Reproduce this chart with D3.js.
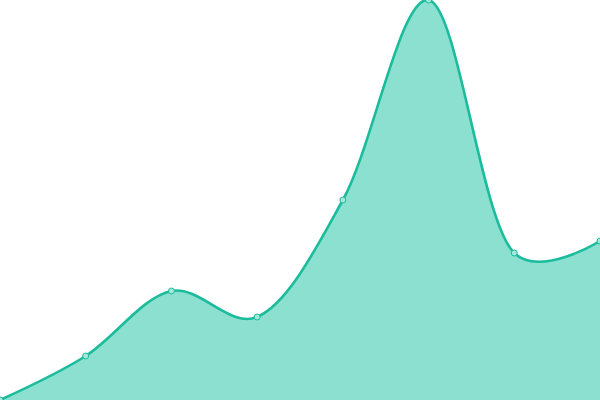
<!DOCTYPE html>
<html><head><meta charset="utf-8">
<script src="https://cdn.jsdelivr.net/npm/d3@7"></script>
<style>html,body{margin:0;padding:0;background:#fff;overflow:hidden}</style>
</head><body>
<svg id="c" width="600" height="400"></svg>
<script>
const categories = ["A","B","C","D","E","F","G","H"];
const values = [0, 44, 109, 83, 200, 400, 147, 159];

const W = 600, H = 400;
const svg = d3.select("#c");
const x = d3.scalePoint().domain(categories).range([0, W]);
const y = d3.scaleLinear().domain([0, 400]).range([H, 0]);
const data = categories.map((c,i)=>({c, v: values[i]}));
const curve = d3.curveCatmullRom.alpha(0.25);

svg.append("path").datum(data)
  .attr("fill", "#8be0d0")
  .attr("d", d3.area().x(d=>x(d.c)).y0(H).y1(d=>y(d.v)).curve(curve));
svg.append("path").datum(data)
  .attr("fill", "none").attr("stroke", "#1abc9c").attr("stroke-width", 2.6)
  .attr("d", d3.line().x(d=>x(d.c)).y(d=>y(d.v)).curve(curve));
svg.selectAll("circle").data(data).join("circle")
  .attr("cx", d=>x(d.c)).attr("cy", d=>y(d.v)).attr("r", 3)
  .attr("fill", "#a4e8da").attr("stroke", "#1abc9c").attr("stroke-width", 1);
</script>
</body></html>
